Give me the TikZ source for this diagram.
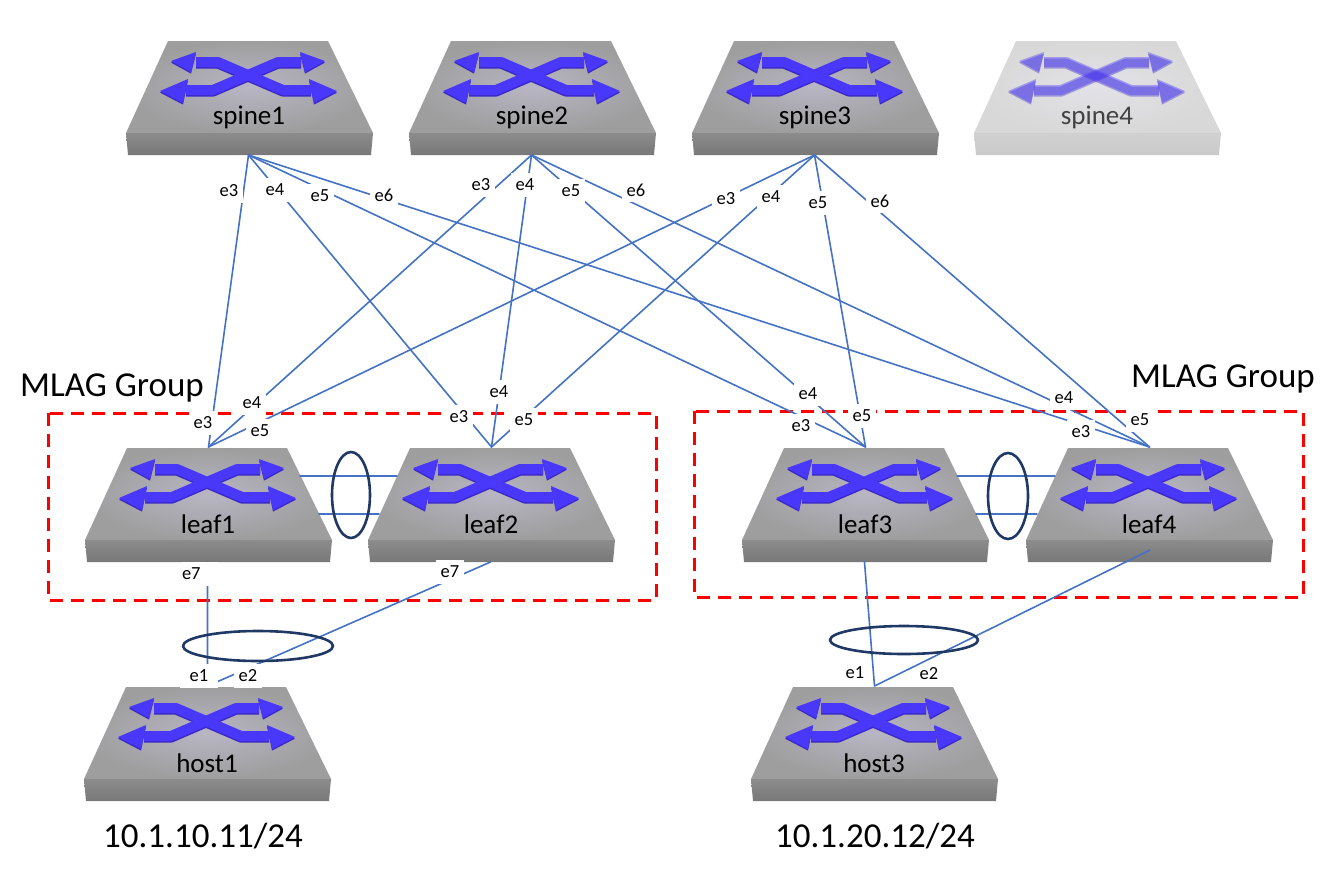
\documentclass[tikz,border=0pt]{standalone}
\usepackage{fontspec}
\setmainfont{Carlito}
\definecolor{linkblue}{HTML}{4472C4}
\definecolor{lagnavy}{HTML}{1F3864}
\definecolor{arrowblue}{HTML}{4A38FA}
\definecolor{arrowdark}{HTML}{3A28C8}
\definecolor{facecentre}{HTML}{B8B6C4}
\begin{document}
\begin{tikzpicture}[x=1pt,y=-1pt,line cap=round,line join=round]
	\tikzset{link/.style={linkblue,line width=1.6pt},
		lagring/.style={lagnavy,line width=2.6pt},
		groupbox/.style={red,line width=3pt,line cap=butt,dash pattern=on 13pt off 8pt},
		bigtext/.style={font=\fontsize{35}{37}\selectfont,inner sep=0pt},
		portlabel/.style={fill=white,font=\fontsize{18.5}{20}\selectfont,inner sep=0pt,minimum width=28pt,minimum height=24pt},
		pics/switchbox/.style n args={3}{code={
			\begin{scope}[opacity=#2]
				\shade[inner color=facecentre,outer color=black!38] (-80,-32)--(80,-32)--(125,60)--(-122,60)--cycle;
				\shade[top color=black!45,bottom color=black!53] (-122,60)--(125,60)--(123,82)--(-120,82)--cycle;
				\foreach \dy/\col in {1.6/arrowdark,0/arrowblue}{
					\begin{scope}[yshift=-\dy pt]
						\draw[\col,line width=10pt,line cap=butt] (-52,-11)--(-30,-11)--(35,17)--(63,17);
						\draw[\col,line width=10pt,line cap=butt] (53,-11)--(30,-11)--(-35,17)--(-62,17);
						\fill[\col] (-77,-12)--(-52,-21)--(-57,-1)--cycle;
						\fill[\col] (77,-12)--(52,-21)--(57,-1)--cycle;
						\fill[\col] (-88,18)--(-60,6)--(-65,30)--cycle;
						\fill[\col] (89,18)--(61,6)--(66,30)--cycle;
					\end{scope}
				}
			\end{scope}
			\node[opacity=#3,font=\fontsize{27}{29}\selectfont,inner sep=0pt] (-name) at (1,44) {#1};
			\coordinate (-top) at (1.5,-33);
			\coordinate (-bot) at (0.5,82);
			\coordinate (-mid) at (2,70);
			\coordinate (-rhi) at (93,-4);
			\coordinate (-lhi) at (-93,-4);
			\coordinate (-rlo) at (112,34);
			\coordinate (-llo) at (-111,34);
		}}}
	\useasboundingbox (0,0) rectangle (1330,884);
	\draw[groupbox] (48,413) rectangle (656,600);
	\draw[groupbox] (694,411) rectangle (1303,597);
	\foreach \n/\x/\y/\o/\p in {spine1/248/73/1/1,spine2/531/73/1/1,spine3/814/73/1/1,spine4/1096/73/0.4/0.7,
		leaf1/207/480/1/1,leaf2/490/480/1/1,leaf3/864/480/1/1,leaf4/1148/480/1/1,host1/206/719/1/1,host3/873/719/1/1}
		\pic (\n) at (\x,\y) {switchbox={\n}{\o}{\p}};
	\foreach \a in {spine1,spine2,spine3}
		\foreach \b in {leaf1,leaf2,leaf3,leaf4}
			\draw[link] (\a-bot)--(\b-top);
	\foreach \a/\b in {leaf1/leaf2,leaf3/leaf4}
		\draw[link] (\a-rhi)--(\b-lhi) (\a-rlo)--(\b-llo);
	\draw[link] (leaf1-bot)--(host1-top) (leaf2-bot)--(host1-top)
		(leaf3-bot)--(host3-top) (leaf4-mid)--(host3-top);
	\draw[lagring] (351,495) ellipse (19 and 43);
	\draw[lagring] (1008,496) ellipse (20 and 43);
	\draw[lagring] (258,646) ellipse (75 and 15);
	\draw[lagring] (904,640) ellipse (74 and 14);
	\foreach \n/\t/\x/\y in {aa/e3/229/191,ab/e4/275/190,ac/e5/320/196,ad/e6/384/195,
		ba/e3/481/185,bb/e4/525/185,bc/e5/571/191,bd/e6/636/190,
		ca/e3/726/199,cb/e4/771/197,cc/e5/818/203,cd/e6/880/201,
		da/e3/203/423,db/e4/252/403,dc/e5/260/431,
		ea/e3/459/417,eb/e4/499/392,ec/e5/524/420,
		fa/e3/801/426,fb/e4/808/394,fc/e5/862/416,
		ga/e3/1081/432,gb/e4/1064/398,gc/e5/1140/420,
		hb/e7/450/572,kb/e2/248/676}
		\node[portlabel] (\n) at (\x,\y) {\t};
	\node[portlabel,text width=36pt,align=left] (ha) at (200,574) {e7};
	\node[portlabel,minimum width=38pt] (ka) at (199,676) {e1};
	\node[portlabel,fill=none] (lb) at (855,673) {e1};
	\node[portlabel,fill=none] (lc) at (929,674) {e2};
	\node[bigtext,anchor=west] (grpa) at (20,388) {MLAG Group};
	\node[bigtext,anchor=west] (grpb) at (1131,379) {MLAG Group};
	\node[bigtext] (ipa) at (203,836) {10.1.10.11/24};
	\node[bigtext] (ipb) at (875,836) {10.1.20.12/24};
\end{tikzpicture}
\end{document}
